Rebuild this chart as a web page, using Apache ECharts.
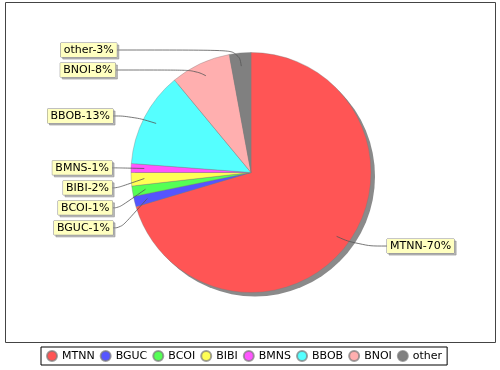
<!DOCTYPE html>
<html><head><meta charset="utf-8">
<script src="https://cdn.jsdelivr.net/npm/echarts@6/dist/echarts.min.js"></script>
<style>html,body{margin:0;padding:0;background:#fff}#c{width:500px;height:370px}</style>
</head><body><div id="c"></div>
<script>
const categories = ['MTNN','BGUC','BCOI','BIBI','BMNS','BBOB','BNOI','other'];
const values = [70.4, 1.4, 1.4, 1.8, 1.2, 12.8, 8.1, 2.9];
const colors = ['#FF5555','#5555FF','#55FF55','#FFFF55','#FF55FF','#55FFFF','#FFAFAF','#808080'];

const total = values.reduce((a,b)=>a+b,0);
const CX = 251, CY = 172.5, R = 120;
const FONT = 'DejaVu Sans';
const sliceData = categories.map((c,i)=>({name:c, value:values[i], itemStyle:{color:colors[i]}}));
const labelData = categories.map((c,i)=>({name:c, value:values[i]}));
const chart = echarts.init(document.getElementById('c'), null, {renderer:'canvas'});
chart.setOption({
  animation:false,
  backgroundColor:'#fff',
  graphic:[{type:'rect', shape:{x:5.5,y:2.5,width:490,height:340}, style:{fill:'none',stroke:'#444',lineWidth:1}, z:-10}],
  legend:{
    data: categories,
    top:347, left:41,
    icon:'circle', itemWidth:10, itemHeight:10, itemGap:5,
    borderColor:'#000', borderWidth:1, padding:[3,5],
    textStyle:{fontFamily:FONT, fontSize:11, color:'#000'}
  },
  series:[
    { type:'pie', silent:true, center:[CX+4,CY+4], radius:R, z:1,
      data:[{value:1, name:'_shadow', itemStyle:{color:'#8a8a8a'}}],
      label:{show:false}, labelLine:{show:false}, legendHoverLink:false },
    { type:'pie', center:[CX,CY], radius:R, startAngle:90, clockwise:true, z:2,
      data: sliceData,
      itemStyle:{borderColor:'rgba(120,120,120,0.7)', borderWidth:0.5},
      label:{show:false}, labelLine:{show:false}
    },
    { type:'pie', center:[CX,CY], radius:R, startAngle:90, clockwise:true, z:3, silent:true,
      data: labelData,
      itemStyle:{color:'rgba(0,0,0,0)', borderWidth:0},
      label:{
        show:true, position:'outside', alignTo:'none',
        formatter: p => p.name + '-' + Math.round(p.value/total*100) + '%',
        fontFamily:FONT, fontSize:11, color:'#000', lineHeight:12,
        backgroundColor:'#FFFFC0', borderColor:'#888', borderWidth:0.5,
        padding:[1,3,1,3], minMargin:5,
        shadowColor:'rgba(140,140,140,0.6)', shadowOffsetX:2, shadowOffsetY:2, shadowBlur:0
      },
      labelLine:{show:true, length:3, length2:20, smooth:0.5, lineStyle:{color:'#555', width:0.8}},
      labelLayout: function(p){
        if (!p.labelLinePoints) return {};
        const lr = p.labelRect;
        const ly = lr.y + lr.height/2;
        const left = lr.x + lr.width/2 < CX;
        const e = p.labelLinePoints[0];
        const ux = (e[0]-CX)/R, uy = (e[1]-CY)/R;
        const start = [CX + ux*R*0.89, CY + uy*R*0.89];
        const t = Math.min(1, Math.abs(ly-CY)/125);
        const lx = left ? 112 + 5*t*t : 387;
        const elbow = [CX + ux*(R+14), ly];
        return {
          x: lx, y: ly, align: left ? 'right' : 'left', verticalAlign:'middle',
          labelLinePoints: [start, elbow, [lx, ly]]
        };
      },
      minShowLabelAngle:0
    }
  ]
});
</script></body></html>
